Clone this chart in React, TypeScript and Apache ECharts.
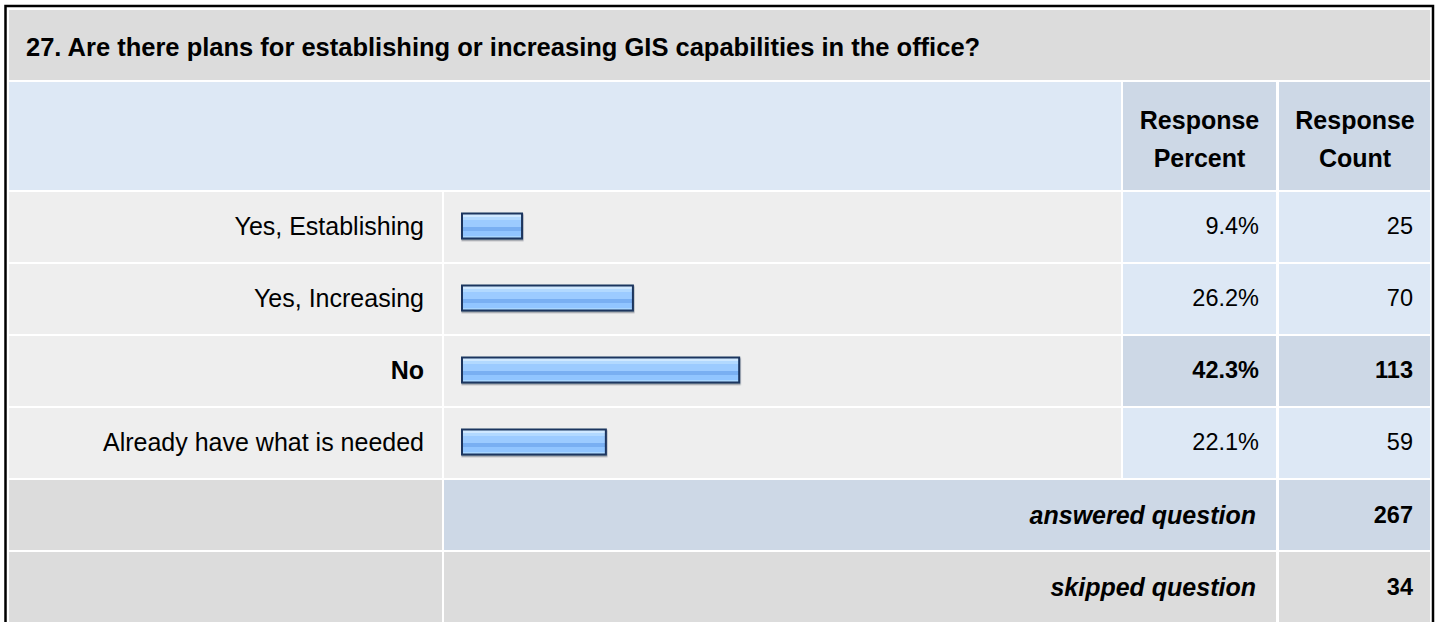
import React, { useEffect, useRef } from "react";
import * as echarts from "echarts";

const title = "27. Are there plans for establishing or increasing GIS capabilities in the office?";
const headerPercent = ["Response", "Percent"];
const headerCount = ["Response", "Count"];
const categories = ["Yes, Establishing", "Yes, Increasing", "No", "Already have what is needed"];
const percents = [9.4, 26.2, 42.3, 22.1];
const counts = [25, 70, 113, 59];
const highlighted = "No";
const answeredLabel = "answered question";
const answeredCount = 267;
const skippedLabel = "skipped question";
const skippedCount = 34;

const FONT = '"Liberation Sans", Arial, Helvetica, sans-serif';
const C_TITLE = "#dcdcdc";
const C_HEAD = "#dde8f5";
const C_HEAD2 = "#cdd8e6";
const C_ROW = "#eeeeee";
const C_NUM = "#dde8f5";

export default function App() {
  const ref = useRef<HTMLDivElement>(null);
  useEffect(() => {
    if (!ref.current) return;
    const chart = echarts.init(ref.current, null, { renderer: "svg" });

    // table geometry
    const L0 = 9, L1 = 442; // label column
    const B0 = 444, B1 = 1121; // bar column
    const P0 = 1123, P1 = 1276; // percent column
    const K0 = 1279, K1 = 1431; // count column
    const rowTop = (i: number) => 192 + i * 72;
    const rowH = 70;

    const g: any[] = [];
    const rect = (x0: number, y0: number, x1: number, y1: number, fill: string) =>
      g.push({ type: "rect", z: 0, shape: { x: x0, y: y0, width: x1 - x0, height: y1 - y0 }, style: { fill } });
    const text = (t: string, x: number, y: number, align: string, weight: string, size: number, italic = false) =>
      g.push({
        type: "text", z: 10, x, y,
        style: { text: t, fill: "#000", align, verticalAlign: "middle", fontFamily: FONT, fontSize: size, fontWeight: weight, fontStyle: italic ? "italic" : "normal" },
      });

    // title
    rect(L0, 10, K1 - 1, 80, C_TITLE);
    text(title, 26, 47, "left", "bold", 25.5);
    // header
    rect(L0, 82, B1, 190, C_HEAD);
    rect(P0, 82, P1, 190, C_HEAD2);
    rect(K0, 82, K1 - 1, 190, C_HEAD2);
    text(headerPercent[0], (P0 + P1) / 2, 120, "center", "bold", 25);
    text(headerPercent[1], (P0 + P1) / 2, 157.5, "center", "bold", 25);
    text(headerCount[0], (K0 + K1) / 2, 120, "center", "bold", 25);
    text(headerCount[1], (K0 + K1) / 2, 157.5, "center", "bold", 25);
    // data rows
    categories.forEach((c, i) => {
      const t = rowTop(i);
      const hi = c === highlighted;
      rect(L0, t, L1, t + rowH, C_ROW);
      rect(B0, t, B1, t + rowH, C_ROW);
      rect(P0, t, P1, t + rowH, hi ? C_HEAD2 : C_NUM);
      rect(K0, t, K1 - 1, t + rowH, hi ? C_HEAD2 : C_NUM);
    });
    // answered / skipped
    const ta = rowTop(categories.length);
    rect(L0, ta, L1, ta + rowH, C_TITLE);
    rect(B0, ta, P1, ta + rowH, C_HEAD2);
    rect(K0, ta, K1 - 1, ta + rowH, C_HEAD2);
    text(answeredLabel, 1256, ta + 35, "right", "bold", 25, true);
    text(String(answeredCount), 1413, ta + 35, "right", "bold", 23.5);
    const ts = rowTop(categories.length + 1);
    rect(L0, ts, L1, ts + rowH + 20, C_TITLE);
    rect(B0, ts, P1, ts + rowH + 20, C_TITLE);
    rect(K0, ts, K1 - 1, ts + rowH + 20, C_TITLE);
    text(skippedLabel, 1256, ts + 35, "right", "bold", 25, true);
    text(String(skippedCount), 1413, ts + 35, "right", "bold", 23.5);
    // outer border
    g.push({ type: "rect", z: 20, shape: { x: 5.5, y: 6, width: 1427.5, height: 700 }, style: { fill: "none", stroke: "#000", lineWidth: 2.5 } });

    const gridLeft = 461, gridRight = B1, gridTop = 190, gridBottom = 478;

    const labelBase = { fontFamily: FONT, fontSize: 25, color: "#000" };
    const numBase = { fontFamily: FONT, fontSize: 23.5, color: "#000" };
    const boldRich = { b: { fontFamily: FONT, fontSize: 25, fontWeight: "bold", color: "#000" } };
    const boldNumRich = { b: { fontFamily: FONT, fontSize: 23.5, fontWeight: "bold", color: "#000" } };

    chart.setOption({
      animation: false,
      backgroundColor: "#ffffff",
      graphic: { elements: g },
      grid: { left: gridLeft, width: gridRight - gridLeft, top: gridTop, height: gridBottom - gridTop, containLabel: false, outerBoundsMode: "none" },
      xAxis: { type: "value", min: 0, max: 100, show: false },
      yAxis: [
        {
          type: "category", inverse: true, data: categories,
          axisLine: { show: false }, axisTick: { show: false }, splitLine: { show: false },
          axisLabel: { ...labelBase, margin: gridLeft - 424, interval: 0, formatter: (v: string) => (v === highlighted ? `{b|${v}}` : v), rich: boldRich },
        },
        {
          type: "category", inverse: true, data: categories, position: "right", offset: 0,
          axisLine: { show: false }, axisTick: { show: false }, splitLine: { show: false },
          axisLabel: {
            ...numBase, margin: 1259 - gridRight, align: "right", interval: 0, rich: boldNumRich,
            formatter: (v: string, i: number) => { const s = percents[i].toFixed(1) + "%"; return v === highlighted ? `{b|${s}}` : s; },
          },
        },
        {
          type: "category", inverse: true, data: categories, position: "right", offset: 0,
          axisLine: { show: false }, axisTick: { show: false }, splitLine: { show: false },
          axisLabel: {
            ...numBase, margin: 1413 - gridRight, align: "right", interval: 0, rich: boldNumRich,
            formatter: (v: string, i: number) => { const s = String(counts[i]); return v === highlighted ? `{b|${s}}` : s; },
          },
        },
      ],
      series: [
        {
          type: "bar", yAxisIndex: 0, data: percents, barWidth: 27, z: 5,
          itemStyle: {
            borderColor: "#1c365e", borderWidth: 2,
            shadowColor: "rgba(40,50,70,0.45)", shadowOffsetX: 0.5, shadowOffsetY: 1.5, shadowBlur: 0,
            color: new echarts.graphic.LinearGradient(0, 0, 0, 1, [
              { offset: 0, color: "#cfe8ff" },
              { offset: 0.155, color: "#cfe8ff" },
              { offset: 0.155, color: "#b2d9ff" },
              { offset: 0.278, color: "#b2d9ff" },
              { offset: 0.278, color: "#9ccbff" },
              { offset: 0.526, color: "#9ccbff" },
              { offset: 0.526, color: "#79aff2" },
              { offset: 0.711, color: "#79aff2" },
              { offset: 0.711, color: "#91c5ff" },
              { offset: 0.896, color: "#91c5ff" },
              { offset: 0.896, color: "#a9d6ff" },
              { offset: 1, color: "#a9d6ff" },
            ]),
          },
        },
      ],
    });
    return () => chart.dispose();
  }, []);
  return <div ref={ref} style={{ position: "fixed", left: 0, top: 0, width: 1440, height: 622 }} />;
}
